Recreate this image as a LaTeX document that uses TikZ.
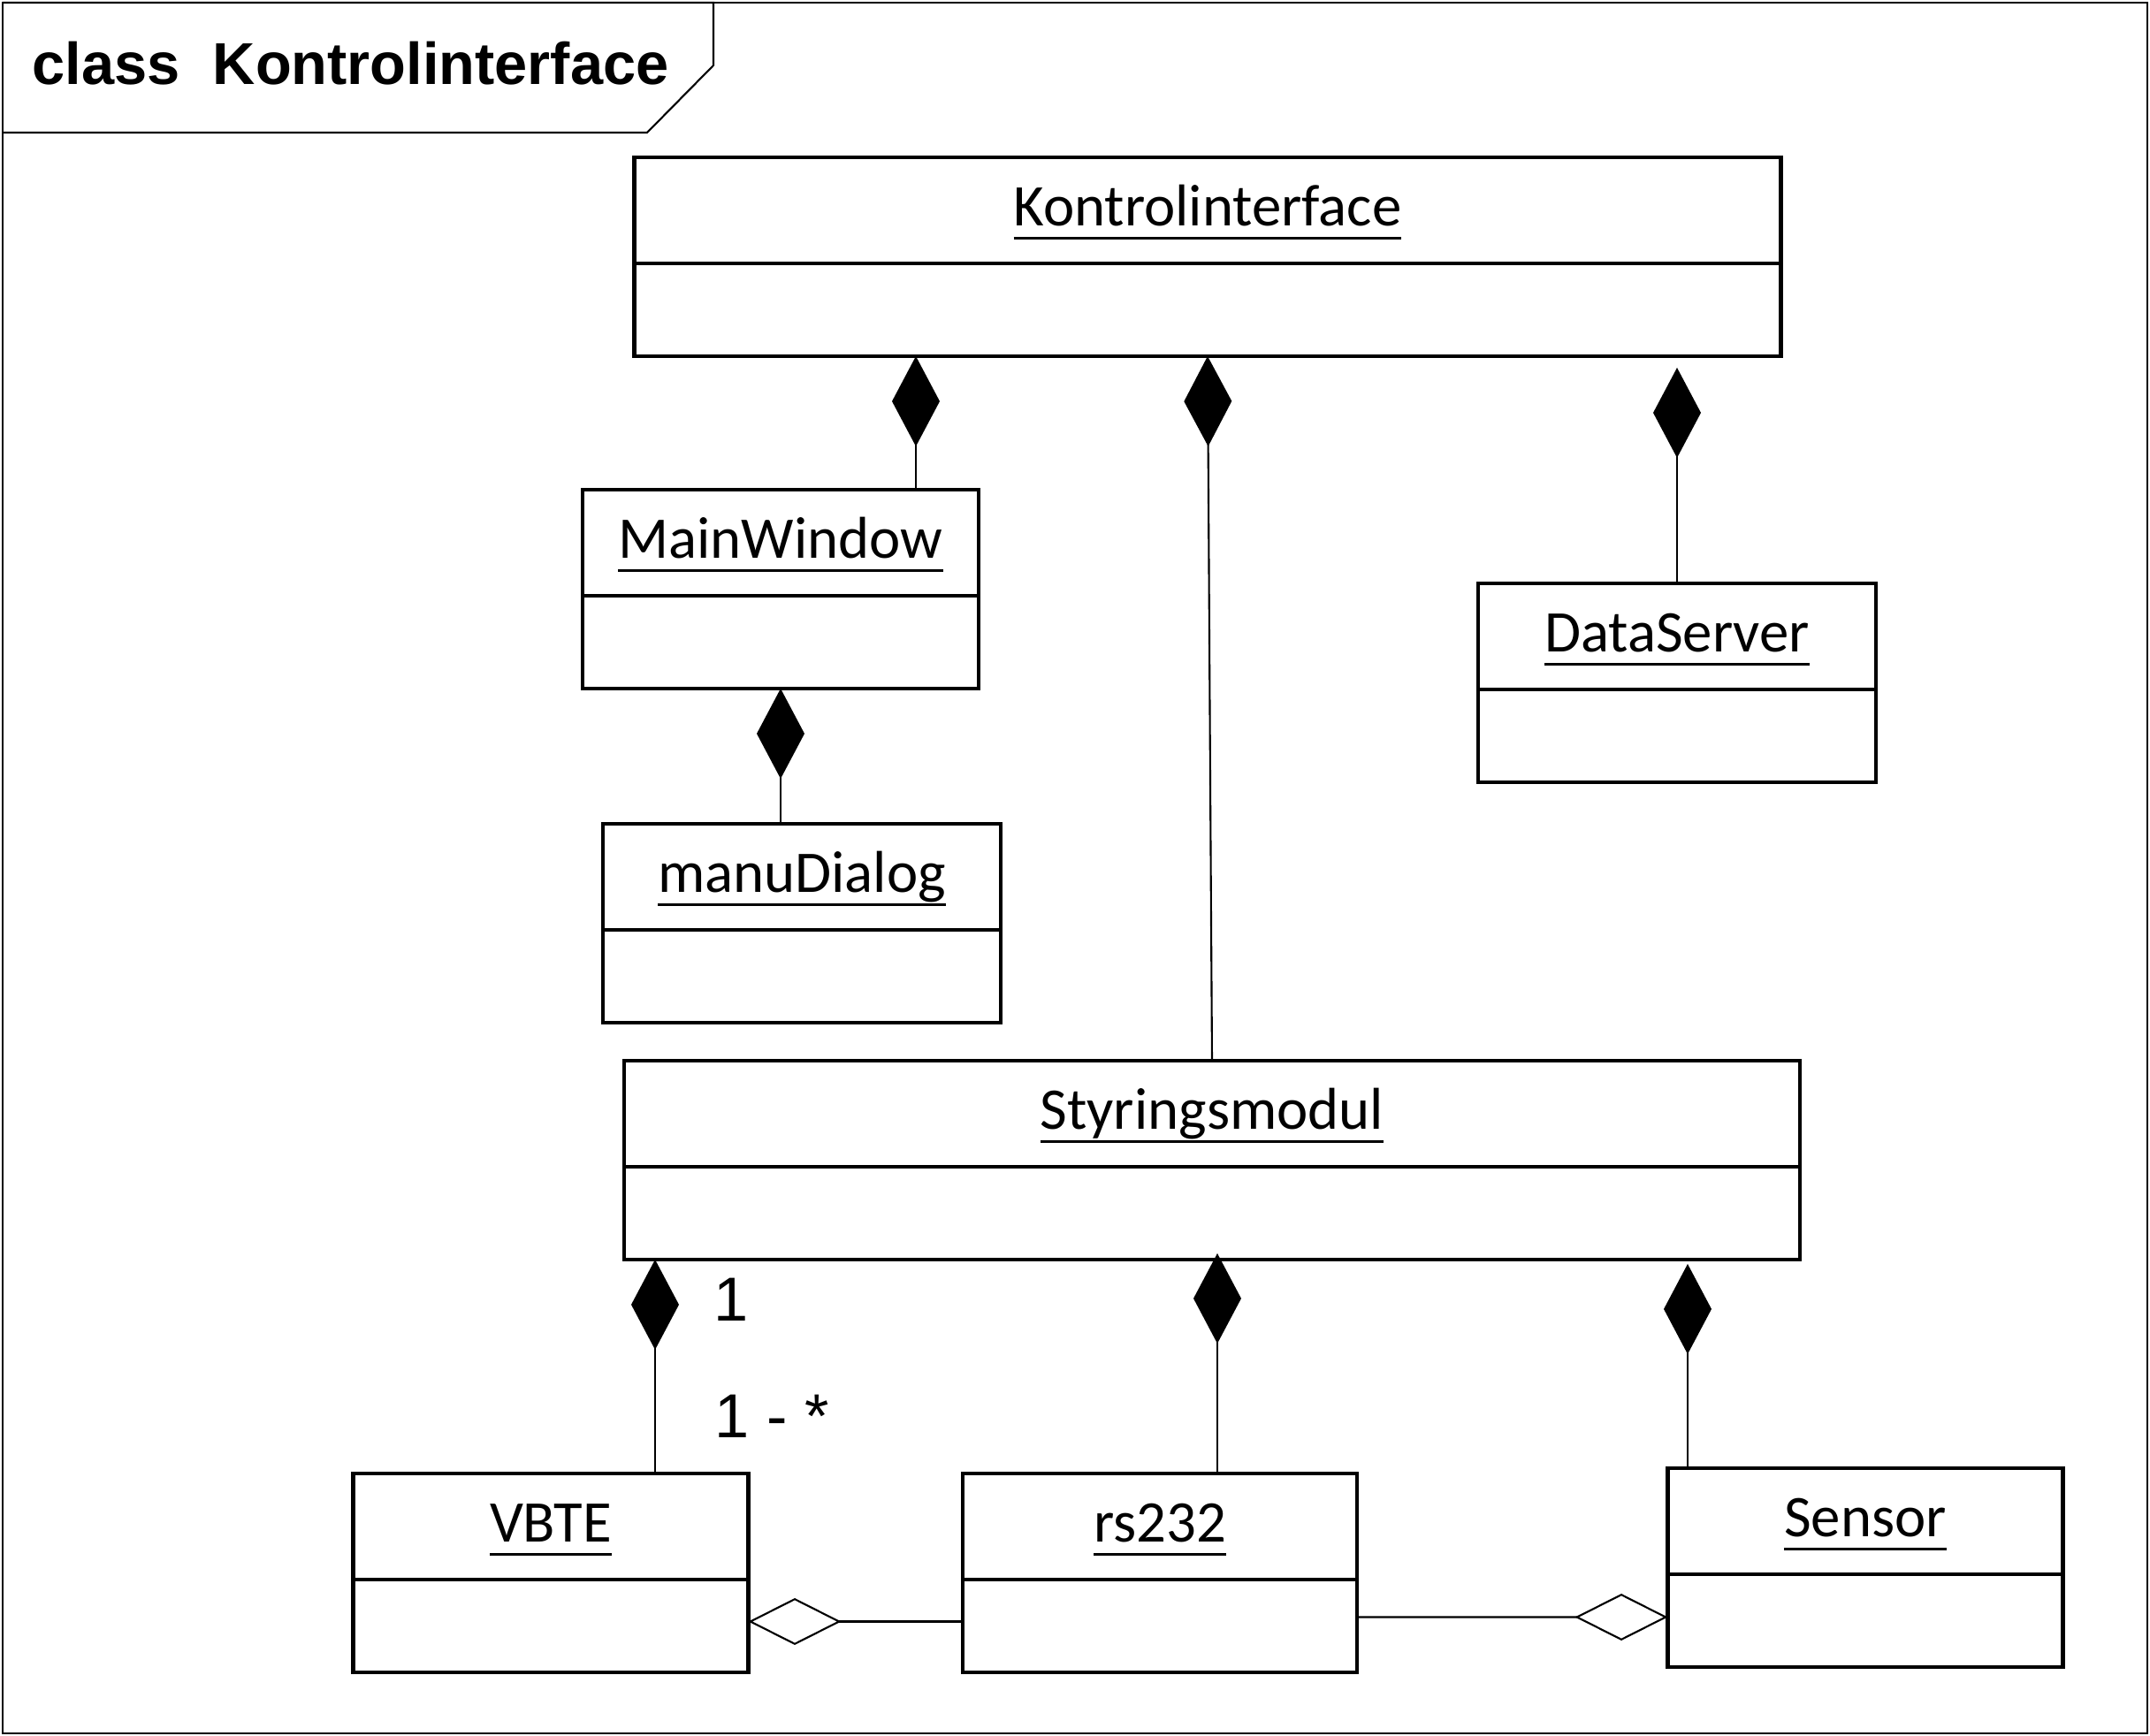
\documentclass[tikz,border=0pt]{standalone}
\usepackage{fontspec}
\setmainfont{Carlito}
\newfontfamily\arialfont{Liberation Sans}
\usepackage{tikz}
\usetikzlibrary{positioning,arrows.meta}
\newcommand{\ulname}[1]{\setbox0\hbox{#1}\rlap{\vrule height -0.12cm depth 0.155cm width \wd0}\box0}

\begin{document}
\begin{tikzpicture}[
  every node/.append style={inner sep=0pt, text=black},
  classname/.style={draw, line width=1.25pt, outer sep=0pt, minimum height=1.2cm, text height=0.46cm, text depth=0.1cm, font=\fontsize{19}{23}\selectfont},
  classbody/.style={draw, line width=1.25pt, outer sep=0pt, minimum height=1.05cm, below=0pt of #1},
  composite/.style={draw, line width=0.6pt, -{Diamond[length=1.02cm, width=0.54cm, fill=black]}},
  aggregate/.style={draw, line width=0.6pt, -{Diamond[length=1.05cm, width=0.53cm, open, fill=white]}},
  mult/.style={font=\arialfont\fontsize{20}{24}\selectfont}]
\useasboundingbox (0,0) rectangle (24.32,-19.64);
% frame and header tab
\draw[line width=0.6pt] (0.03,-0.03) rectangle (24.29,-19.61);
\draw[line width=0.6pt] (0.03,-0.03) -- (8.07,-0.03) -- (8.07,-0.74) -- (7.32,-1.50) -- (0.03,-1.50);
\node[anchor=base west, font=\arialfont\bfseries\fontsize{19}{23}\selectfont] (title) at (0.36,-0.96) {class\ \ Kontrolinterface};

% classes
\node[classname, minimum width=12.97cm] (kontrol) at (13.66,-2.38) {\ulname{Kontrolinterface}};
\node[classbody=kontrol, minimum width=12.97cm] (kontrolB) {};
\node[classname, minimum width=4.48cm] (mainwin) at (8.83,-6.14) {\ulname{MainWindow}};
\node[classbody=mainwin, minimum width=4.48cm] (mainwinB) {};
\node[classname, minimum width=4.50cm] (dataserv) at (18.97,-7.20) {\ulname{DataServer}};
\node[classbody=dataserv, minimum width=4.50cm] (dataservB) {};
\node[classname, minimum width=4.50cm] (manudlg) at (9.07,-9.92) {\ulname{manuDialog}};
\node[classbody=manudlg, minimum width=4.50cm] (manudlgB) {};
\node[classname, minimum width=13.30cm] (styring) at (13.71,-12.60) {\ulname{Styringsmodul}};
\node[classbody=styring, minimum width=13.30cm] (styringB) {};
\node[classname, minimum width=4.47cm] (vbte) at (6.23,-17.27) {\ulname{VBTE}};
\node[classbody=vbte, minimum width=4.47cm] (vbteB) {};
\node[classname, minimum width=4.46cm] (rs) at (13.12,-17.27) {\ulname{rs232}};
\node[classbody=rs, minimum width=4.46cm] (rsB) {};
\node[classname, minimum width=4.47cm] (sensor) at (21.10,-17.21) {\ulname{Sensor}};
\node[classbody=sensor, minimum width=4.47cm] (sensorB) {};

% compositions
\draw[composite] ([xshift=1.53cm]mainwin.north) -- ([xshift=1.53cm]mainwin.north |- kontrolB.south);
\draw[composite] (styring.north) -- (kontrolB.south);
\draw[composite] (dataserv.north) -- ([yshift=-0.13cm]dataserv.north |- kontrolB.south);
\draw[composite] (mainwinB.south |- manudlg.north) -- (mainwinB.south);
\draw[composite] ([xshift=1.18cm]vbte.north) -- ([xshift=1.18cm]vbte.north |- styringB.south);
\draw[composite] ([xshift=0.65cm]rs.north) -- ([xshift=0.65cm,yshift=0.07cm]rs.north |- styringB.south);
\draw[composite] ([xshift=-2.01cm]sensor.north) -- ([xshift=-2.01cm,yshift=-0.05cm]sensor.north |- styringB.south);

% aggregations
\draw[aggregate] ([yshift=0.05cm]rsB.west) -- ([yshift=0.05cm]vbteB.east);
\draw[aggregate] ([yshift=0.1cm]rsB.east) -- ([yshift=0.04cm]sensorB.west);

% multiplicities
\node[mult] (mult1) at (8.27,-14.70) {1};
\node[mult] (mult2) at (8.73,-16.02) {1 - *};
\end{tikzpicture}
\end{document}
